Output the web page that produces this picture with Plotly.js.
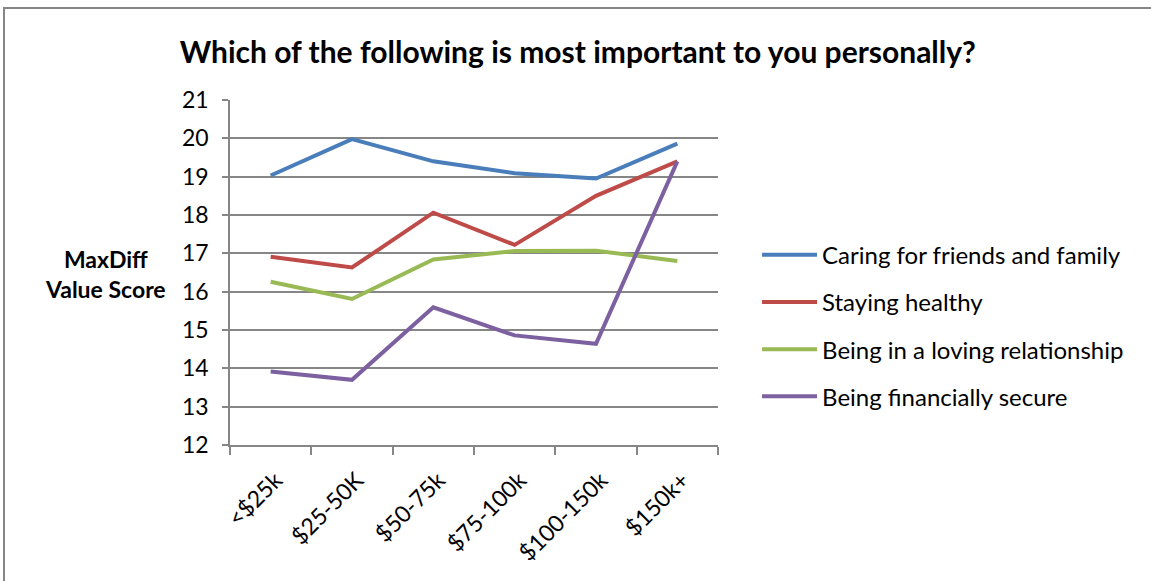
<!DOCTYPE html>
<html>
<head>
<meta charset="utf-8">
<script src="https://cdn.plot.ly/plotly-3.0.1.min.js"></script>
<style>
html,body{margin:0;padding:0;background:#fff;overflow:hidden;}
#chart{width:1151px;height:581px;position:absolute;left:0;top:0;}
#frame{position:absolute;left:3px;top:7px;width:1300px;height:800px;border-left:2px solid #868686;border-top:2px solid #868686;pointer-events:none;}
</style>
</head>
<body>
<div id="chart"></div>
<div id="frame"></div>
<script>
const categories = ["<$25k", "$25-50K", "$50-75k", "$75-100k", "$100-150k", "$150k+"];
const caringFriendsFamily = [19.03, 19.98, 19.40, 19.09, 18.95, 19.86];
const stayingHealthy = [16.91, 16.63, 18.06, 17.22, 18.50, 19.40];
const lovingRelationship = [16.26, 15.81, 16.84, 17.06, 17.07, 16.80];
const financiallySecure = [13.92, 13.70, 15.59, 14.86, 14.64, 19.40];
const seriesNames = ["Caring for friends and family", "Staying healthy", "Being in a loving relationship", "Being financially secure"];
const seriesColors = ["#4A7EBB", "#BE4B48", "#98B954", "#7D60A0"];
const seriesValues = [caringFriendsFamily, stayingHealthy, lovingRelationship, financiallySecure];
const yTicks = [12, 13, 14, 15, 16, 17, 18, 19, 20, 21];

const FONT = "Lato, 'Open Sans', sans-serif";

const traces = seriesValues.map((vals, i) => ({
  type: "scatter",
  mode: "lines",
  x: categories,
  y: vals,
  name: seriesNames[i],
  legendgroup: "g" + i,
  line: {color: seriesColors[i], width: 4},
  hoverinfo: "x+y+name"
}));

const layout = {
  width: 1151,
  height: 581,
  paper_bgcolor: "#ffffff",
  plot_bgcolor: "#ffffff",
  margin: {l: 230, r: 433, t: 100, b: 136, pad: 0},
  showlegend: true,
  font: {family: FONT, color: "#000000", size: 23},
  title: {
    text: "<b>Which of the following is most important to you personally?</b>",
    font: {family: FONT, size: 30, color: "#000000"},
    x: 0.502, xref: "container", xanchor: "center",
    y: 0.91, yref: "container", yanchor: "middle"
  },
  xaxis: {
    type: "category",
    range: [-0.5, 5.5],
    tickson: "boundaries",
    ticks: "outside",
    ticklen: 8,
    tickwidth: 1.5,
    tickcolor: "#868686",
    showline: true,
    linecolor: "#868686",
    linewidth: 1.5,
    showgrid: false,
    zeroline: false,
    tickangle: -45,
    ticklabelshift: 5,
    ticklabelstandoff: 11,
    tickfont: {family: FONT, size: 23, color: "#000000"},
    fixedrange: true
  },
  yaxis: {
    range: [12, 21],
    tickvals: yTicks,
    ticktext: yTicks.map(String),
    ticks: "outside",
    ticklen: 6,
    tickwidth: 1.5,
    tickcolor: "#868686",
    showline: true,
    linecolor: "#868686",
    linewidth: 1.5,
    showgrid: true,
    gridcolor: "#868686",
    gridwidth: 1.5,
    zeroline: false,
    ticklabelstandoff: 9,
    tickfont: {family: FONT, size: 23, color: "#000000"},
    fixedrange: true
  },
  legend: {
    x: 1.08, xanchor: "left",
    y: 0.346, yanchor: "middle",
    font: {family: FONT, size: 24, color: "#000000"},
    bgcolor: "rgba(0,0,0,0)",
    itemwidth: 55,
    tracegroupgap: 13,
    traceorder: "grouped"
  },
  annotations: [{
    xref: "paper", yref: "paper",
    x: -0.256, y: 0.495,
    xanchor: "center", yanchor: "middle",
    text: "<b>MaxDiff</b><br><b>Value Score</b>",
    align: "center",
    showarrow: false,
    font: {family: FONT, size: 23, color: "#000000"}
  }]
};

Plotly.newPlot("chart", traces, layout, {displayModeBar: false, staticPlot: false});
</script>
</body>
</html>
